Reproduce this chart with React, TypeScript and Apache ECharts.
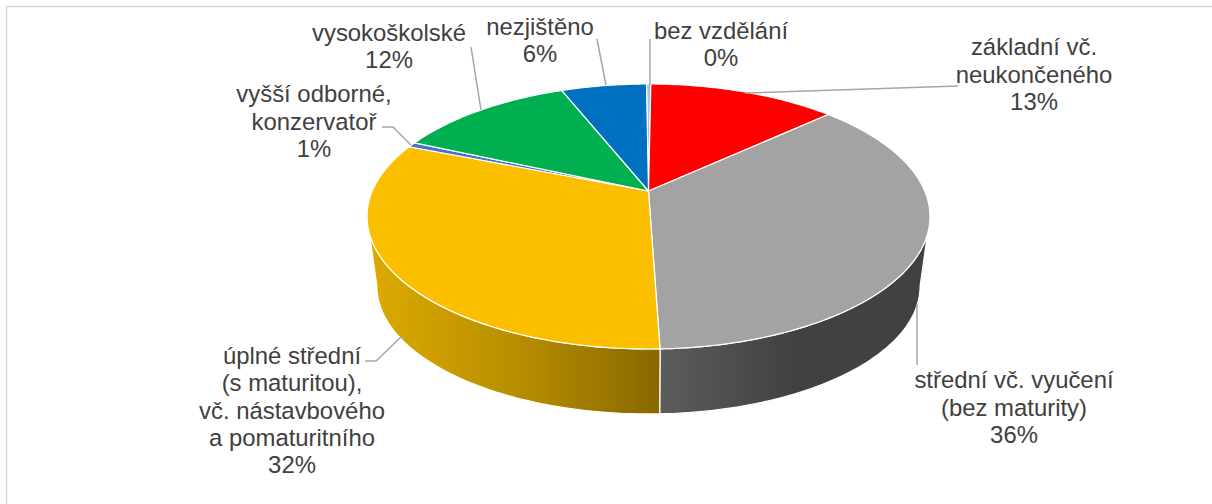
import React, { useEffect, useRef } from "react";
import * as echarts from "echarts";

const categories = [
  "bez vzdělání",
  "základní vč. neukončeného",
  "střední vč. vyučení (bez maturity)",
  "úplné střední (s maturitou), vč. nástavbového a pomaturitního",
  "vyšší odborné, konzervatoř",
  "vysokoškolské",
  "nezjištěno",
];
const values = [0.3, 13.0, 36.3, 31.6, 0.6, 12.3, 5.9];
const percentLabels = ["0%", "13%", "36%", "32%", "1%", "12%", "6%"];
const labelLines = [
  ["bez vzdělání"],
  ["základní vč.", "neukončeného"],
  ["střední vč. vyučení", "(bez maturity)"],
  ["úplné střední", "(s maturitou),", "vč. nástavbového", "a pomaturitního"],
  ["vyšší odborné,", "konzervatoř"],
  ["vysokoškolské"],
  ["nezjištěno"],
];
const topColors = ["#9DC3E6", "#FF0000", "#A3A3A3", "#FBBF00", "#4472C4", "#00B050", "#0070C0"];

// layout of the projected disc
const START_DEG = -0.5;
const APEX_X = 648.5;
const APEX_Y = 191;
const SCALE_X = 276.2;
const SCALE_Y = 127.6;
const PERSPECTIVE = 0.1924;
const BOTTOM_SHRINK = 0.965;
const BOTTOM_APEX_Y = 261.5;
const WALL_FROM = (Math.acos(-PERSPECTIVE) * 180) / Math.PI;
const WALL_TO = 360 - WALL_FROM;

const labelBoxes = [
  { x: 721, y: 44 },
  { x: 1034, y: 74 },
  { x: 1014, y: 407 },
  { x: 292, y: 410 },
  { x: 314, y: 121 },
  { x: 389, y: 46 },
  { x: 540, y: 40 },
];
const leaders = [
  [[650, 39], [650, 85]],
  [[958, 86], [745, 93]],
  [[917, 365], [917, 304]],
  [[365, 361], [376, 361], [402, 336]],
  [[382, 127], [393, 127], [411, 145]],
  [[471, 47], [481, 110]],
  [[597, 39], [606, 85]],
];

const wallFills: Record<number, [string, string, string]> = {
  2: ["#5C5C5C", "#414141", "#414141"],
  3: ["#DDAA00", "#B98F00", "#886800"],
};

function project(deg: number, bottom: boolean): number[] {
  const t = (deg * Math.PI) / 180;
  const w = 1 + PERSPECTIVE * Math.cos(t);
  const k = bottom ? BOTTOM_SHRINK : 1;
  const cy = bottom ? BOTTOM_APEX_Y : APEX_Y;
  return [APEX_X + (k * SCALE_X * Math.sin(t)) / w, cy - (k * SCALE_Y * Math.cos(t)) / w];
}

function arc(from: number, to: number, bottom: boolean): number[][] {
  const n = Math.max(2, Math.ceil(Math.abs(to - from)));
  const pts: number[][] = [];
  for (let i = 0; i <= n; i++) pts.push(project(from + ((to - from) * i) / n, bottom));
  return pts;
}

const total = values.reduce((a, b) => a + b, 0);
function sliceRange(i: number): [number, number] {
  let before = 0;
  for (let k = 0; k < i; k++) before += values[k];
  return [START_DEG + (before / total) * 360, START_DEG + ((before + values[i]) / total) * 360];
}

function renderTop(params: any) {
  const [a, b] = sliceRange(params.dataIndex);
  return {
    type: "polygon",
    shape: { points: [[APEX_X, APEX_Y], ...arc(a, b, false)] },
    style: { fill: topColors[params.dataIndex], stroke: "#FFFFFF", lineWidth: 1.2, lineJoin: "round" },
  };
}

function renderWall(params: any) {
  const [a0, b0] = sliceRange(params.dataIndex);
  const a = Math.max(a0, WALL_FROM);
  const b = Math.min(b0, WALL_TO);
  if (b <= a) return null;
  const stops = wallFills[params.dataIndex];
  const fill = stops
    ? new echarts.graphic.LinearGradient(0, 0, 1, 0, [
        { offset: 0, color: stops[0] },
        { offset: 0.5, color: stops[1] },
        { offset: 1, color: stops[2] },
      ])
    : topColors[params.dataIndex];
  return {
    type: "polygon",
    shape: { points: [...arc(a, b, false), ...arc(b, a, true)] },
    style: { fill, stroke: "#FFFFFF", lineWidth: 1.2, lineJoin: "round" },
  };
}

export default function App() {
  const ref = useRef<HTMLDivElement>(null);
  useEffect(() => {
    document.body.style.margin = "0";
    const chart = echarts.init(ref.current!, null, { renderer: "svg" });
    const data = values.map((v, i) => ({ name: categories[i], value: v }));
    const textFont = '23.9px "Liberation Sans", Arial, sans-serif';
    chart.setOption({
      animation: false,
      backgroundColor: "#FFFFFF",
      series: [
        { type: "custom", coordinateSystem: "none", silent: true, data, renderItem: (p: any) => renderWall(p), z: 1 },
        { type: "custom", coordinateSystem: "none", silent: true, data, renderItem: (p: any) => renderTop(p), z: 2 },
      ],
      graphic: {
        elements: [
          {
            type: "rect",
            silent: true,
            z: 0,
            shape: { x: 6.5, y: 6.5, width: 1300, height: 600 },
            style: { fill: "none", stroke: "#D9D9D9", lineWidth: 1.5 },
          },
          ...leaders.map((pts) => ({
            type: "polyline",
            silent: true,
            z: 5,
            shape: { points: pts },
            style: { fill: "none", stroke: "#A6A6A6", lineWidth: 1.5 },
          })),
          ...labelLines.map((lines, i) => ({
            type: "text",
            silent: true,
            z: 6,
            x: labelBoxes[i].x,
            y: labelBoxes[i].y,
            style: {
              text: [...lines, percentLabels[i]].join("\n"),
              font: textFont,
              fill: "#404040",
              align: "center",
              verticalAlign: "middle",
              lineHeight: 27.4,
            },
          })),
        ],
      },
    });
    return () => chart.dispose();
  }, []);
  return <div ref={ref} style={{ width: 1212, height: 504 }} />;
}
